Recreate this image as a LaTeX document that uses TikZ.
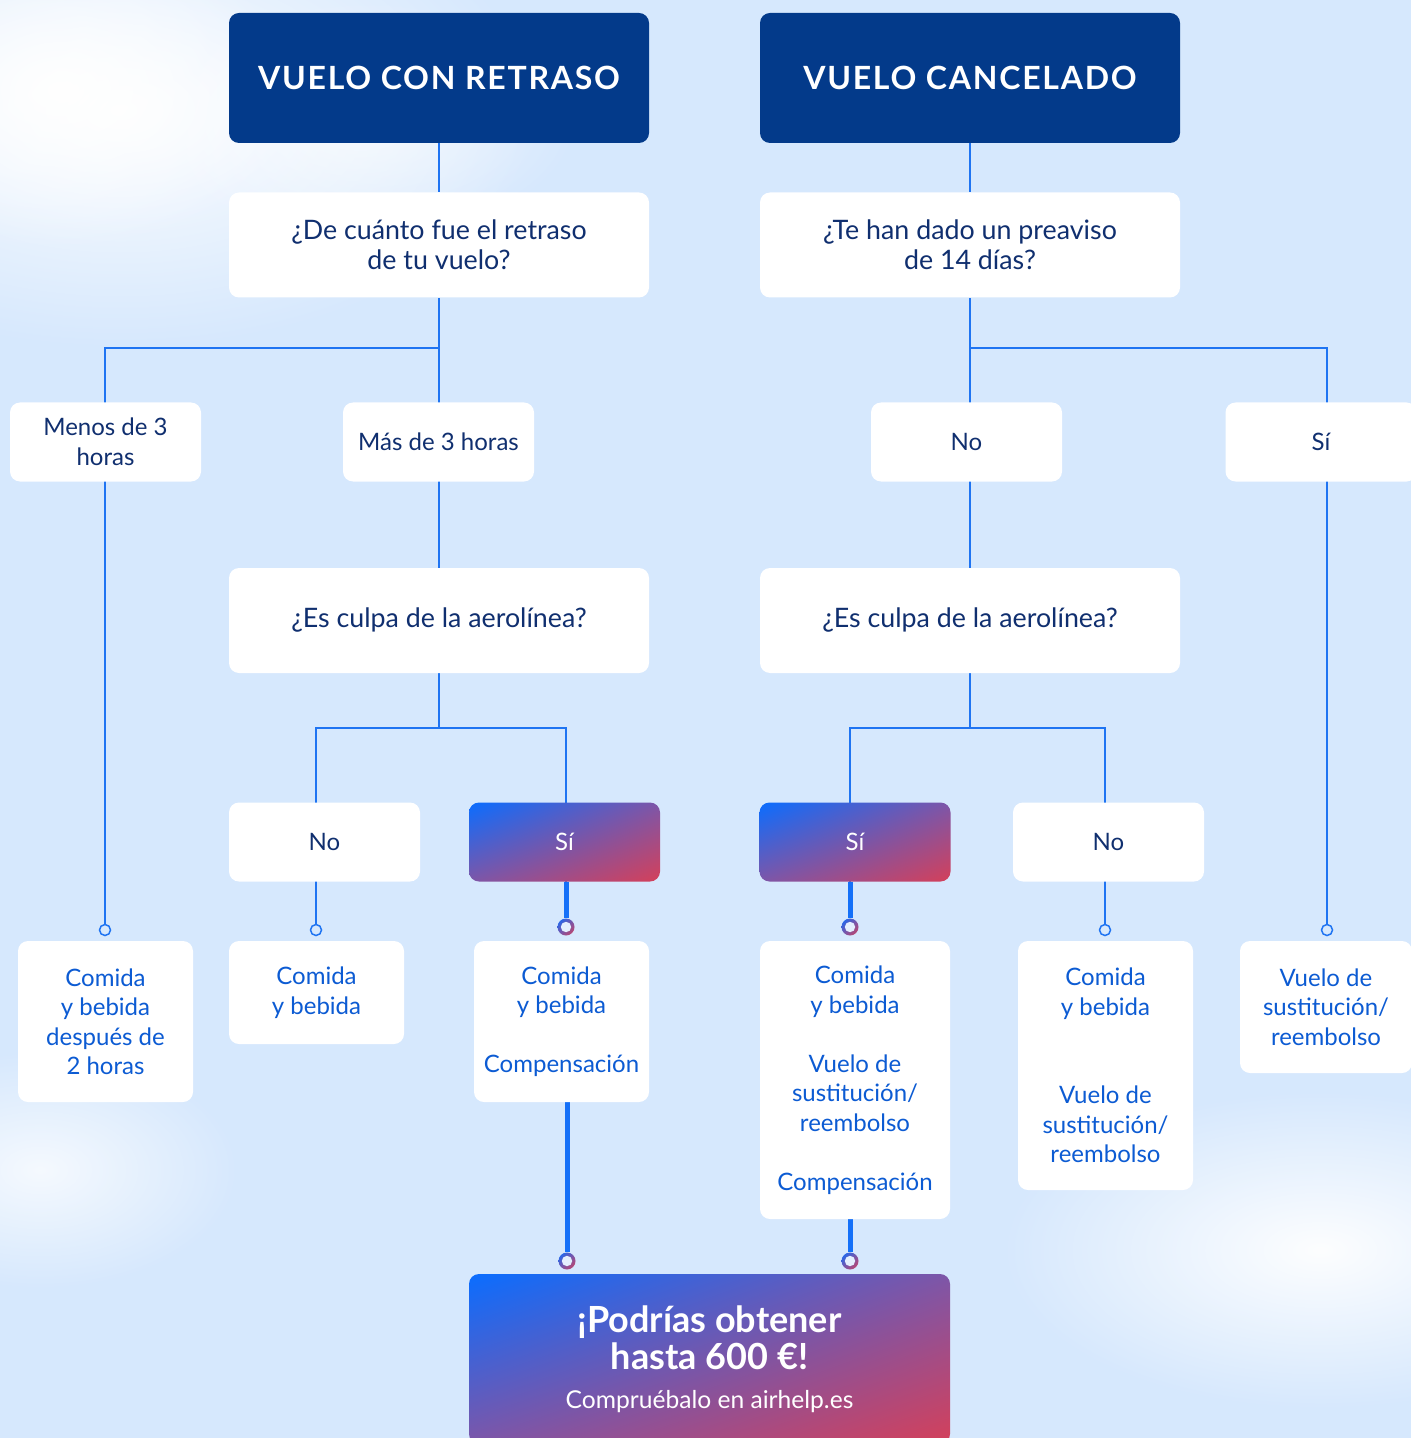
\documentclass[tikz,border=0pt]{standalone}
\usepackage{fontspec}
\setmainfont{Lato}
\newfontfamily\titlefont{Lato}[LetterSpace=5.5]
\usetikzlibrary{fadings,shadings}
\definecolor{sky}{HTML}{D6E8FD}
\definecolor{navy}{HTML}{033A8A}
\definecolor{ink}{HTML}{102F6F}
\definecolor{resblue}{HTML}{0C5BD3}
\definecolor{wire}{HTML}{1F74F2}
\definecolor{hotwire}{HTML}{1570F8}
\definecolor{gblue}{HTML}{0A6DFF}
\definecolor{gmid}{HTML}{7D56A8}
\definecolor{gred}{HTML}{D4405A}
\definecolor{hole}{HTML}{E4EFFE}
\tikzfading[name=haze, inner color=transparent!5, outer color=transparent!100]
\pgfdeclarelayer{skylayer}
\pgfdeclarelayer{wires}
\pgfsetlayers{skylayer,wires,main}
\tikzset{
  box/.style={rounded corners=5pt, inner sep=0pt, align=center,
    font=\fontsize{12}{14.75}\selectfont},
  titlebox/.style={box, fill=navy, text=white, minimum width=210pt,
    minimum height=65pt, font=\titlefont\bfseries\fontsize{16}{18}\selectfont},
  askbox/.style={box, fill=white, text=ink, minimum width=210pt,
    minimum height=52.5pt, font=\fontsize{13.4}{15}\selectfont},
  optsize/.style={box, minimum width=95.5pt, minimum height=39.5pt},
  optbox/.style={optsize, fill=white, text=ink},
  glow/.style={shade, upper left=gblue, upper right=gmid, lower left=gmid, lower right=gred},
  hotbox/.style={optsize, glow, text=white},
  resbox/.style={box, fill=white, text=resblue, minimum width=87.5pt},
  link/.style={draw=wire, line width=0.75pt},
  hotlink/.style={draw=hotwire, line width=2.5pt},
  dot/.style={circle, draw=wire, line width=0.75pt, fill=sky, minimum size=5.5pt, inner sep=0pt},
  hotdot/.style={circle, glow, minimum size=8.5pt, inner sep=0pt,
    path picture={\fill[hole] (path picture bounding box.center) circle (2.6pt);}},
}
\begin{document}
\begin{tikzpicture}[x=0.5pt,y=-0.5pt]
\useasboundingbox (0,0) rectangle (1411,1438);
% sky and clouds
\begin{pgfonlayer}{skylayer}
\fill[sky] (0,0) rectangle (1411,1438);
\fill[white, path fading=haze] (120,110) ellipse (420 and 240);
\fill[white, path fading=haze] (60,90) ellipse (240 and 160);
\fill[white, path fading=haze, opacity=.7] (360,120) ellipse (220 and 120);
\fill[white, path fading=haze, opacity=.8] (40,1170) ellipse (200 and 120);
\fill[white, path fading=haze] (1320,1250) ellipse (320 and 160);
\end{pgfonlayer}

% headers and questions
\node[titlebox] (late) at (439,78) {VUELO CON RETRASO};
\node[titlebox] (cancel) at (970,78) {VUELO CANCELADO};
\node[askbox] (howlong) at (439,245) {¿De cuánto fue el retraso\\de tu vuelo?};
\node[askbox] (notice) at (970,245) {¿Te han dado un preaviso\\de 14 días?};

% first answers
\node[optbox] (under3) at (105.5,442) {Menos de 3\\horas};
\node[optbox] (over3) at (438.5,442) {Más de 3 horas};
\node[optbox] (noticeno) at (966.5,442) {No};
\node[optbox] (noticeyes) at (1321,442) {Sí};

% fault questions and answers
\node[askbox] (faultlate) at (439,620.5) {¿Es culpa de la aerolínea?};
\node[askbox] (faultcancel) at (970,620.5) {¿Es culpa de la aerolínea?};
\node[optbox] (lateno) at (324.5,842) {No};
\node[hotbox] (lateyes) at (564.5,842) {Sí};
\node[hotbox] (cancelyes) at (855,842) {Sí};
\node[optbox] (cancelno) at (1108.5,842) {No};

% rights
\node[resbox, minimum height=80.5pt] (rA) at (105.5,1021.5) {Comida\\y bebida\\después de\\2 horas};
\node[resbox, minimum height=51.5pt] (rB) at (316.5,992.5) {Comida\\y bebida};
\node[resbox, minimum height=80.5pt] (rC) at (561.5,1021.5) {Comida\\y bebida\\[14.75pt]Compensación};
\node[resbox, minimum width=95pt, minimum height=139pt] (rD) at (855,1080)
  {Comida\\y bebida\\[14.75pt]Vuelo de\\sustitución/\\reembolso\\[14.75pt]Compensación};
\node[resbox, minimum height=124.5pt] (rE) at (1105.5,1065.5)
  {Comida\\y bebida\\[29.5pt]Vuelo de\\sustitución/\\reembolso};
\node[resbox, minimum width=86pt, minimum height=66pt] (rF) at (1326,1007) {Vuelo de\\sustitución/\\reembolso};

% claim box
\node[box, glow, text=white, minimum width=240.5pt, minimum height=85pt,
  font=\bfseries\fontsize{18}{18.5}\selectfont] (claim) at (709.5,1359)
  {¡Podrías obtener\\hasta 600 €!\\[1pt]{\mdseries\fontsize{12.3}{14}\selectfont Compruébalo en airhelp.es}};

% end points
\node[dot] (dA) at (105,930) {};
\node[dot] (dB) at (316,930) {};
\node[hotdot] (hC) at (566,927) {};
\node[hotdot] (hD) at (850,927) {};
\node[dot] (dE) at (1105,930) {};
\node[dot] (dF) at (1327,930) {};
\node[hotdot] (hG) at (567,1261) {};
\node[hotdot] (hH) at (850,1261) {};

\coordinate (split1) at (439,348);
\coordinate (split2) at (970,348);
\coordinate (split3) at (439,728);
\coordinate (split4) at (970,728);

% connectors
\begin{pgfonlayer}{wires}
\draw[link] (late) -- (howlong);
\draw[link] (cancel) -- (notice);
\draw[link] (howlong) -- (faultlate);
\draw[link] (notice) -- (faultcancel);
\draw[link] (split1) -| (dA);
\draw[link] (split2) -| (dF);
\draw[link] (faultlate) -- (split3);
\draw[link] (faultcancel) -- (split4);
\draw[link] (dB) |- (split3) -| (hC);
\draw[link] (hD) |- (split4) -| (dE);
\draw[hotlink] (lateyes.south -| hC) -- (hC);
\draw[hotlink] (cancelyes.south -| hD) -- (hD);
\draw[hotlink] (rC.south -| hG) -- (hG);
\draw[hotlink] (rD.south -| hH) -- (hH);
\end{pgfonlayer}
\end{tikzpicture}
\end{document}
